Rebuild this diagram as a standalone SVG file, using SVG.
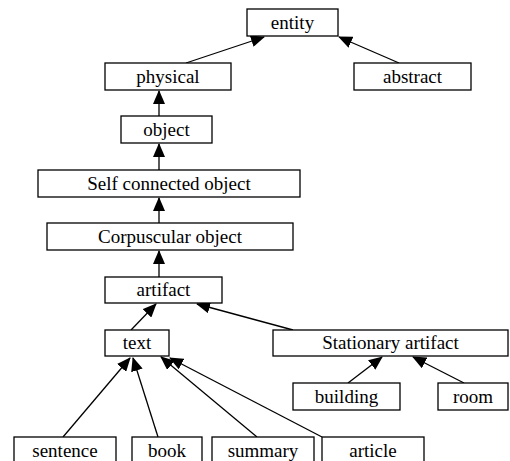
<svg xmlns="http://www.w3.org/2000/svg" width="510" height="461" viewBox="0 0 510 461">
<defs>
<style>
.n rect{fill:#fff;stroke:#000;stroke-width:1.3}
.n text{font-family:"Liberation Serif","Times New Roman",serif;font-size:19px;text-anchor:middle;fill:#000}
#edges line{stroke:#000;stroke-width:1.3;marker-end:url(#ah)}
</style>
<marker id="ah" markerUnits="userSpaceOnUse" markerWidth="14" markerHeight="12" viewBox="0 0 14 12" refX="13" refY="6" orient="auto">
<path d="M0,0 L14,6 L0,12 Z" fill="#000"/>
</marker>
</defs>
<rect width="510" height="461" fill="#fff"/>
<g id="edges">
<line x1="186" y1="63" x2="264" y2="37"/>
<line x1="399" y1="63" x2="339" y2="37"/>
<line x1="159" y1="116" x2="159" y2="91"/>
<line x1="159" y1="170" x2="159" y2="144"/>
<line x1="159" y1="223" x2="159" y2="198"/>
<line x1="159" y1="277" x2="159" y2="251"/>
<line x1="131" y1="330" x2="156" y2="304"/>
<line x1="293" y1="330" x2="197" y2="304"/>
<line x1="348" y1="383" x2="382" y2="357"/>
<line x1="464" y1="383" x2="413" y2="357"/>
<line x1="63" y1="437" x2="130" y2="358"/>
<line x1="158" y1="437" x2="133" y2="358"/>
<line x1="257" y1="437" x2="161" y2="357"/>
<line x1="322" y1="437" x2="170" y2="358"/>
</g>
<g id="entity" class="n"><rect x="247" y="9" width="91" height="27"/><text x="292.5" y="29">entity</text></g>
<g id="physical" class="n"><rect x="105" y="63" width="126" height="27"/><text x="168" y="83">physical</text></g>
<g id="abstract" class="n"><rect x="354" y="63" width="117" height="27"/><text x="412.5" y="83">abstract</text></g>
<g id="object" class="n"><rect x="121" y="116" width="91" height="27"/><text x="166.5" y="136">object</text></g>
<g id="selfconnected" class="n"><rect x="38" y="170" width="262" height="27"/><text x="169" y="190">Self connected object</text></g>
<g id="corpuscular" class="n"><rect x="47" y="223" width="246" height="27"/><text x="170" y="243">Corpuscular object</text></g>
<g id="artifact" class="n"><rect x="105" y="277" width="117" height="26"/><text x="163.5" y="296">artifact</text></g>
<g id="text" class="n"><rect x="105" y="330" width="64" height="26"/><text x="137" y="349">text</text></g>
<g id="stationary" class="n"><rect x="273" y="330" width="235" height="26"/><text x="390.5" y="349">Stationary artifact</text></g>
<g id="building" class="n"><rect x="293" y="383" width="107" height="27"/><text x="346.5" y="403">building</text></g>
<g id="room" class="n"><rect x="438" y="383" width="70" height="27"/><text x="473" y="403">room</text></g>
<g id="sentence" class="n"><rect x="14" y="437" width="102" height="30"/><text x="65" y="457">sentence</text></g>
<g id="book" class="n"><rect x="132" y="437" width="70" height="30"/><text x="167" y="457">book</text></g>
<g id="summary" class="n"><rect x="212" y="437" width="102" height="30"/><text x="263" y="457">summary</text></g>
<g id="article" class="n"><rect x="322" y="437" width="102" height="30"/><text x="373" y="457">article</text></g>
</svg>
